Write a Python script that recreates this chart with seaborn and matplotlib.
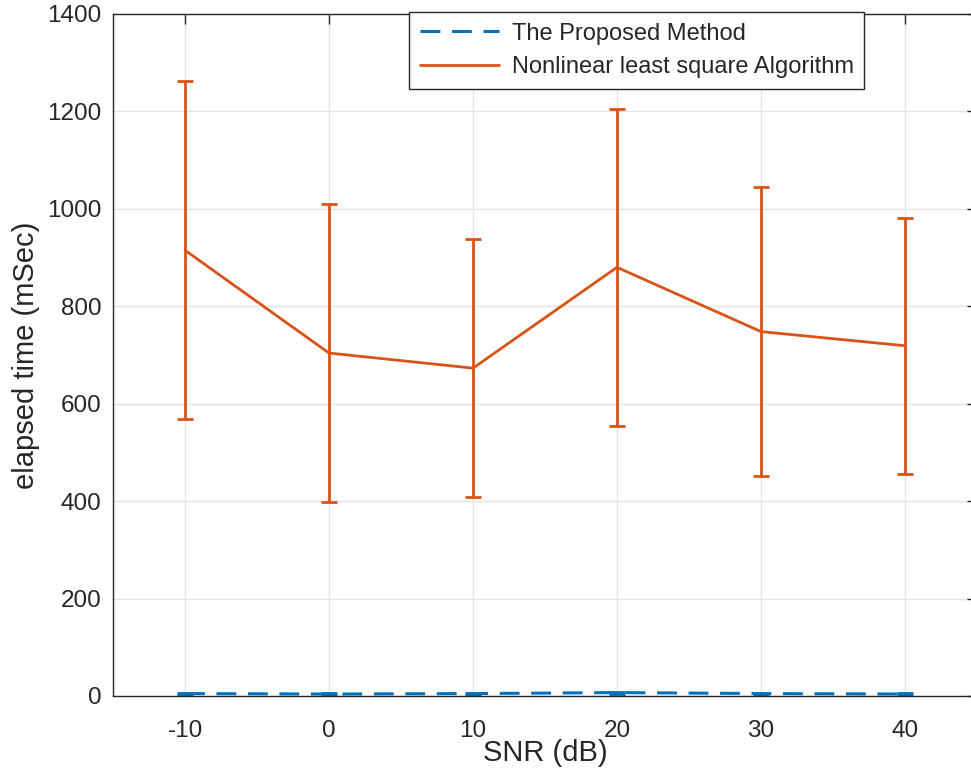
import matplotlib
matplotlib.use("Agg")
import matplotlib.pyplot as plt
from matplotlib.lines import Line2D
import seaborn as sns
import pandas as pd

snr = [-10, 0, 10, 20, 30, 40]
proposed_mean = [5, 4, 5, 7, 5, 4]
proposed_std = [2, 2, 2, 2, 2, 2]
nls_mean = [915, 704, 673, 880, 748, 719]
nls_std = [347, 306, 265, 326, 296, 263]
series_names = ["The Proposed Method", "Nonlinear least square Algorithm"]
y_ticks = [0, 200, 400, 600, 800, 1000, 1200, 1400]
x_ticks = [-10, 0, 10, 20, 30, 40]

blue = (0.0, 0.447, 0.741)
orange = (0.85, 0.325, 0.098)
dash = (6.5, 3.8)

sns.set_theme(style="whitegrid")
plt.rcParams["font.family"] = ["Liberation Sans", "DejaVu Sans"]

df = pd.DataFrame({
    "SNR": snr * 2,
    "time": proposed_mean + nls_mean,
    "std": proposed_std + nls_std,
    "method": [series_names[0]] * len(snr) + [series_names[1]] * len(snr),
})

fig = plt.figure(figsize=(9.71, 7.72), dpi=100)
ax = fig.add_axes([113 / 971, 76 / 772, 864 / 971, 682 / 772])

sns.lineplot(data=df, x="SNR", y="time", hue="method", style="method",
             palette=[blue, orange], dashes=[dash, ""], linewidth=2.2,
             ax=ax, legend=False)
ax.lines[0].set_linewidth(2.2)
ax.lines[1].set_linewidth(2)

for name, color, lw in [(series_names[0], blue, 2.2), (series_names[1], orange, 2)]:
    sub = df[df["method"] == name]
    ax.errorbar(sub["SNR"], sub["time"], yerr=sub["std"], fmt="none",
                ecolor=color, elinewidth=lw, capsize=6, capthick=2)

ax.set_xlim(-15, 45)
ax.set_ylim(0, 1400)
ax.set_xticks(x_ticks)
ax.set_yticks(y_ticks)
ax.set_xticklabels([str(v) for v in x_ticks])
ax.grid(True, color="#e4e4e4", linewidth=1)
for s in ax.spines.values():
    s.set_visible(True)
    s.set_color("#262626")
    s.set_linewidth(1)
ax.tick_params(direction="in", length=7, width=1, colors="#262626",
               labelsize=17.5, top=True, right=True, labelcolor="#262626")
ax.tick_params(axis="x", pad=17)
ax.tick_params(axis="y", pad=8.5)
ax.set_xlabel("SNR (dB)", fontsize=21, color="#262626", labelpad=-2)
ax.set_ylabel("elapsed time (mSec)", fontsize=21, color="#262626", labelpad=5)

handles = [Line2D([], [], color=blue, linestyle=(0, dash), linewidth=2.2),
           Line2D([], [], color=orange, linewidth=2)]
leg = ax.legend(handles, series_names, loc="upper left",
                bbox_to_anchor=(409 / 971, 1 - 12 / 772),
                bbox_transform=fig.transFigure, fontsize=17,
                frameon=True, fancybox=False, framealpha=1,
                edgecolor="#262626", handlelength=3.35, borderpad=0.45,
                labelspacing=0.5, handletextpad=0.55, borderaxespad=0)
leg.get_frame().set_linewidth(1)

fig.savefig("out.png", dpi=100)
